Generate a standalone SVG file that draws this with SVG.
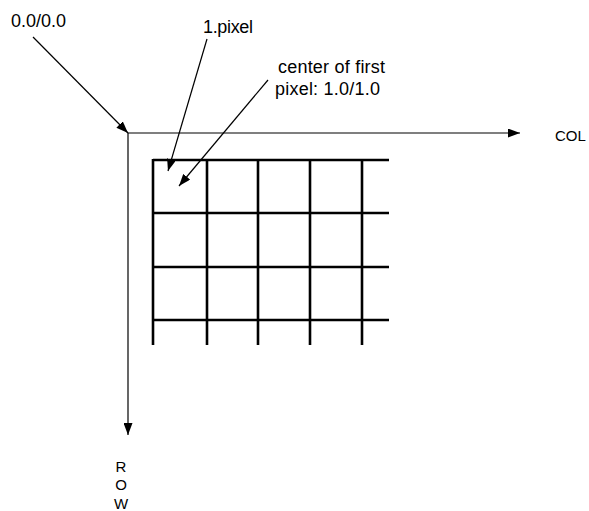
<svg xmlns="http://www.w3.org/2000/svg" width="589" height="511" viewBox="0 0 589 511">
<style>
text{font-family:"Liberation Sans",Arial,sans-serif;fill:#000}
.lbl{font-size:18px}
.ax{font-size:15px}
.thin{stroke:#000;stroke-width:1.2;fill:none}
.grid line{stroke:#000;stroke-width:2.6}
</style>
<defs>
<marker id="ah" viewBox="0 0 12 9" refX="12" refY="4.5" markerWidth="12" markerHeight="9" markerUnits="userSpaceOnUse" orient="auto">
<path d="M0,0L12,4.5L0,9z" fill="#000"/>
</marker>
</defs>
<rect width="589" height="511" fill="#fff"/>
<g id="grid" class="grid">
<line x1="153" y1="160" x2="389" y2="160"/>
<line x1="153" y1="213" x2="389" y2="213"/>
<line x1="153" y1="267" x2="389" y2="267"/>
<line x1="153" y1="320" x2="389" y2="320"/>
<line x1="153" y1="159" x2="153" y2="345"/>
<line x1="207" y1="159" x2="207" y2="345"/>
<line x1="258" y1="159" x2="258" y2="345"/>
<line x1="310" y1="159" x2="310" y2="345"/>
<line x1="362" y1="159" x2="362" y2="345"/>
</g>
<g id="connectors">
<line class="thin" x1="128" y1="133" x2="520" y2="133" marker-end="url(#ah)"/>
<line class="thin" x1="128" y1="133" x2="128" y2="435" marker-end="url(#ah)"/>
<line class="thin" x1="33" y1="37" x2="128" y2="133" marker-end="url(#ah)"/>
<line class="thin" x1="207" y1="39" x2="168" y2="171" marker-end="url(#ah)"/>
<line class="thin" x1="268" y1="80" x2="179" y2="186" marker-end="url(#ah)"/>
</g>
<g id="label-origin"><text class="lbl" x="11" y="27" textLength="55">0.0/0.0</text></g>
<g id="label-pixel"><text class="lbl" x="203" y="33" textLength="50">1.pixel</text></g>
<g id="label-center">
<text class="lbl" x="278" y="73" textLength="107">center of first</text>
<text class="lbl" x="275" y="95" textLength="105">pixel: 1.0/1.0</text>
</g>
<g id="label-col"><text class="ax" x="555" y="141">COL</text></g>
<g id="label-row">
<text class="ax" x="121" y="472" text-anchor="middle">R</text>
<text class="ax" x="121" y="490" text-anchor="middle">O</text>
<text class="ax" x="121" y="509" text-anchor="middle">W</text>
</g>
</svg>
